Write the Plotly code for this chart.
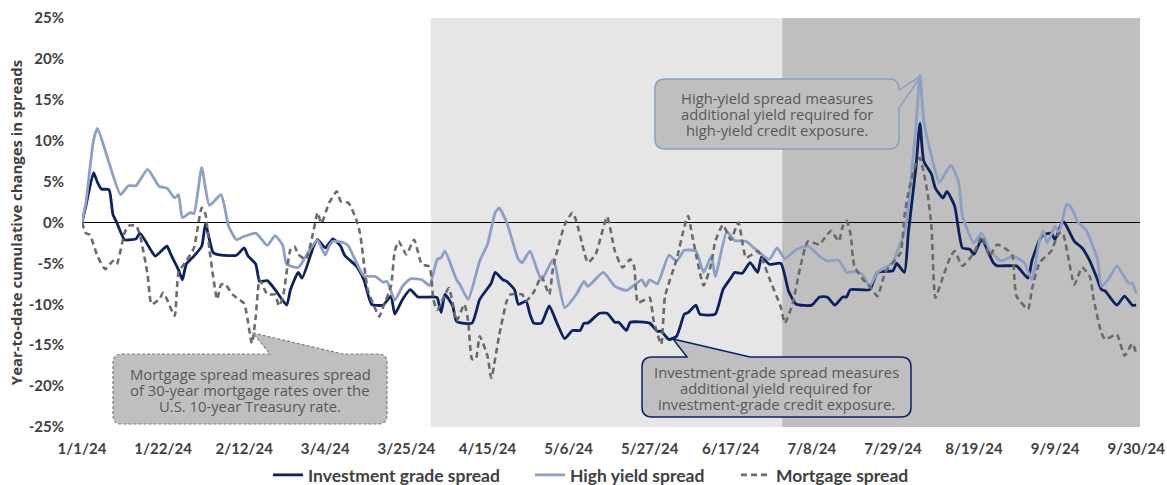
import pandas as pd
import plotly.graph_objects as go

BASE = pd.Timestamp("2024-01-01")

# Day offsets from 1/1/24 and year-to-date cumulative change (%)
ig_day = [0, 1, 3, 4, 5, 7, 8, 9, 11, 13, 14, 15, 18, 19, 22, 23, 25, 26, 27, 29, 31, 32, 33, 34, 36,
          40, 42, 43, 45, 46, 48, 50, 53, 54, 56, 57, 60, 61, 63, 65, 67, 68, 71, 73, 75, 78, 80, 81, 83,
          85, 87, 91, 92, 93, 94, 96, 97, 101, 103, 106, 107, 109, 110, 112, 113, 115, 116, 117, 119, 121,
          123, 125, 127, 129, 130, 131, 134, 136, 138, 139, 141, 142, 147, 149, 150, 152, 154, 156, 157,
          159, 160, 164, 166, 168, 169, 171, 173, 175, 176, 178, 181, 183, 185, 189, 191, 193, 195, 197,
          198, 199, 204, 206, 210, 211, 213, 214, 216, 217, 218, 220, 221, 223, 224, 226, 228, 230, 231,
          233, 236, 237, 242, 245, 246, 248, 249, 251, 252, 254, 255, 257, 259, 261, 263, 264, 265, 268,
          270, 272, 273]
ig_val = [0, 2.0, 6.1, 4.9, 4.1, 4.0, 1.0, 0.0, -2.1, -2.1, -2.0, -1.3, -3.5, -4.1, -2.9, -3.9, -5.8,
          -7.0, -5.1, -4.1, -2.9, -0.1, -2.1, -3.7, -4.0, -4.0, -3.1, -4.1, -5.1, -7.2, -7.1, -8.2, -10.1,
          -8.2, -6.1, -6.8, -2.9, -2.1, -3.1, -2.0, -2.9, -4.0, -5.3, -7.0, -10.0, -10.1, -9.0, -11.2, -9.4,
          -8.2, -9.1, -9.1, -9.2, -11.0, -8.8, -10.2, -12.1, -12.3, -9.4, -7.4, -6.1, -7.0, -7.2, -8.2,
          -10.0, -9.6, -11.2, -12.3, -12.3, -10.2, -12.3, -14.2, -13.2, -13.2, -12.3, -12.3, -11.1, -11.1,
          -12.2, -12.2, -13.2, -12.2, -12.3, -13.3, -13.3, -14.3, -13.9, -11.2, -11.0, -10.1, -11.2, -11.2,
          -8.2, -6.8, -6.1, -6.2, -4.9, -6.1, -4.2, -5.1, -5.0, -8.4, -10.0, -10.1, -9.1, -9.1, -10.1,
          -9.1, -9.1, -8.2, -8.2, -6.1, -5.9, -5.0, -6.1, -1.3, 6.9, 12.1, 7.5, 5.9, 4.2, 3.0, 3.8, 2.0,
          -3.1, -3.3, -3.9, -2.1, -4.9, -5.3, -5.3, -6.8, -4.7, -2.1, -1.5, -1.3, -2.1, 0.2, -0.45, -2.3,
          -3.1, -4.7, -7.0, -8.2, -8.4, -10.1, -9.0, -10.1, -10.1]

hy_day = [0, 1, 3, 4, 7, 10, 12, 14, 17, 20, 22, 24, 25, 26, 28, 29, 31, 33, 36, 38, 40, 42, 45, 48, 50,
          52, 53, 56, 57, 59, 61, 63, 64, 65, 68, 69, 73, 76, 78, 79, 81, 83, 85, 88, 90, 92, 93, 94, 97,
          98, 100, 103, 105, 107, 108, 110, 113, 114, 116, 119, 122, 125, 128, 130, 131, 135, 138, 141,
          145, 146, 147, 149, 152, 154, 156, 159, 161, 163, 164, 167, 169, 172, 174, 178, 180, 182, 185,
          188, 191, 193, 196, 198, 200, 202, 204, 206, 210, 211, 213, 214, 216, 217, 218, 220, 222, 225,
          227, 228, 230, 231, 233, 235, 238, 241, 244, 246, 248, 249, 250, 252, 253, 255, 256, 258, 260,
          263, 264, 266, 268, 271, 272, 273]
hy_val = [0, 2.4, 10.1, 11.5, 7.3, 3.4, 4.5, 4.5, 6.5, 4.4, 4.2, 3.0, 3.4, 0.6, 1.2, 1.1, 6.7, 2.1, 3.4,
          -0.5, -2.1, -1.7, -1.3, -2.8, -1.6, -2.8, -5.1, -5.5, -4.9, -3.3, -2.2, -4.0, -2.9, -2.3, -2.5,
          -2.9, -6.5, -6.6, -7.3, -7.2, -9.5, -7.8, -6.9, -7.0, -7.7, -4.5, -4.3, -3.5, -7.0, -7.7, -9.4,
          -4.7, -2.7, 1.2, 1.8, 0.0, -4.5, -4.9, -3.5, -7.0, -4.5, -10.4, -8.8, -7.2, -7.8, -6.1, -7.8,
          -8.3, -7.0, -7.8, -7.0, -7.5, -4.0, -4.7, -3.4, -3.5, -6.1, -4.1, -6.6, -1.1, -2.2, -2.3, -3.1,
          -4.5, -3.1, -4.4, -3.3, -2.9, -4.1, -4.7, -4.6, -6.1, -6.0, -6.3, -7.8, -6.1, -4.9, -3.7, -1.3,
          2.0, 11.8, 18.0, 12.4, 8.1, 4.9, 7.0, 5.0, 0.8, -1.7, -2.5, -1.3, -3.3, -4.7, -4.1, -4.9, -7.0,
          -2.1, -1.1, -2.5, -0.45, -1.3, 2.2, 2.0, 0.0, -0.9, -4.5, -7.8, -6.8, -5.3, -7.4, -7.4, -8.7]

mtg_day = [0, 1, 2, 4, 6, 8, 9, 11, 12, 14, 15, 17, 18, 20, 21, 22, 24, 25, 27, 29, 31, 32, 33, 35, 36,
           37, 39, 40, 42, 44, 45, 46, 48, 50, 51, 52, 54, 55, 56, 58, 60, 61, 62, 64, 66, 67, 69, 71, 72,
           74, 76, 77, 78, 80, 81, 82, 84, 86, 88, 90, 91, 92, 94, 95, 96, 97, 99, 100, 101, 102, 103, 105,
           106, 108, 110, 111, 114, 115, 117, 119, 121, 122, 125, 127, 128, 130, 131, 133, 136, 138, 140,
           142, 143, 144, 147, 148, 150, 151, 154, 156, 157, 158, 161, 163, 164, 166, 168, 170, 172, 175,
           176, 178, 181, 182, 184, 186, 188, 191, 192, 193, 194, 196, 197, 198, 199, 200, 202, 204, 206,
           208, 210, 212, 213, 214, 216, 217, 218, 219, 220, 221, 223, 225, 226, 228, 231, 233, 235, 237,
           240, 241, 242, 245, 246, 248, 251, 253, 254, 257, 259, 261, 262, 264, 265, 268, 270, 272, 273]
mtg_val = [0, -1.3, -1.5, -4.1, -5.7, -4.7, -5.1, -1.3, -0.4, -0.4, -1.5, -6.4, -10.0, -9.4, -8.6, -9.4,
           -11.4, -6.1, -4.7, -3.1, 1.8, 1.0, -3.3, -9.4, -7.6, -7.5, -8.8, -9.2, -9.9, -14.8, -11.5, -7.0,
           -8.8, -8.8, -10.2, -9.2, -3.3, -2.9, -3.9, -4.5, -0.9, 1.2, -0.1, 2.4, 3.8, 2.6, 2.4, 0.4, -1.3,
           -8.2, -10.6, -11.5, -10.3, -7.8, -3.5, -2.3, -3.9, -2.1, -5.1, -5.4, -9.4, -10.7, -8.8, -8.0,
           -9.8, -12.1, -10.0, -12.0, -16.7, -16.7, -13.9, -16.3, -19.0, -13.9, -9.6, -8.8, -8.8, -9.6,
           -8.5, -6.6, -8.8, -5.5, -0.3, 1.2, 0.2, -3.5, -4.9, -3.9, 0.7, -3.5, -5.5, -4.5, -5.4, -9.8,
           -9.2, -11.9, -14.9, -9.0, -4.5, -0.5, 0.8, -1.5, -7.7, -5.0, -2.3, -0.3, -2.1, 0.0, -4.3, -3.5,
           -4.3, -6.8, -10.4, -12.3, -10.0, -5.5, -2.3, -2.7, -2.1, -1.5, -1.0, -2.3, -0.5, 0.2, -1.3, -5.3,
           -6.8, -7.8, -9.0, -6.1, -4.9, -3.7, 0.8, 3.6, 7.3, 7.9, 6.1, 3.5, -0.5, -9.2, -6.6, -4.1, -3.5,
           -5.3, -3.7, -1.7, -4.1, -2.7, -3.5, -4.1, -9.0, -10.6, -8.2, -4.9, -3.5, -1.3, -1.3, -7.6, -5.5,
           -6.6, -9.4, -13.5, -14.3, -13.7, -16.3, -14.8, -15.9]

x_tick_dates = ["2024-01-01", "2024-01-22", "2024-02-12", "2024-03-04", "2024-03-25", "2024-04-15",
                "2024-05-06", "2024-05-27", "2024-06-17", "2024-07-08", "2024-07-29", "2024-08-19",
                "2024-09-09", "2024-09-30"]
x_tick_text = ["1/1/24", "1/22/24", "2/12/24", "3/4/24", "3/25/24", "4/15/24", "5/6/24", "5/27/24",
               "6/17/24", "7/8/24", "7/29/24", "8/19/24", "9/9/24", "9/30/24"]
y_tick_vals = [25, 20, 15, 10, 5, 0, -5, -10, -15, -20, -25]
y_tick_text = ["25%", "20%", "15%", "10%", "5%", "0%", "-5%", "-10%", "-15%", "-20%", "-25%"]

q2_span = ["2024-03-31 08:00", "2024-06-30 08:00"]
q3_span = ["2024-06-30 08:00", "2024-10-01"]

mtg_note = ["Mortgage spread measures spread", "of 30-year mortgage rates over the",
            "U.S. 10-year Treasury rate."]
ig_note = ["Investment-grade spread measures", "additional yield required for",
           "investment-grade credit exposure."]
hy_note = ["High-yield spread measures", "additional yield required for",
           "high-yield credit exposure."]

NAVY = "#0b2160"
LIGHT = "#8c9fc4"
GRAY = "#6b6b6b"
TXT = "#404040"
FONT = "Lato"
NOTE_FONT = "Open Sans"

W, H = 1167, 485
L, R, T, B = 82, 27, 18, 58
PW, PH = W - L - R, H - T - B


def to_dates(days):
    return [BASE + pd.Timedelta(days=d) for d in days]


def px(x):
    return (x - L) / PW


def py(y):
    return (H - B - y) / PH


def callout(x0, y0, x1, y1, r, ptr, side):
    def P(x, y):
        return f"{px(x):.5f},{py(y):.5f}"
    s = f"M {P(x0 + r, y0)} "
    if side == "top":
        s += f"L {P(ptr[0][0], y0)} L {P(*ptr[1])} L {P(ptr[2][0], y0)} "
    s += f"L {P(x1 - r, y0)} Q {P(x1, y0)} {P(x1, y0 + r)} "
    if side == "right":
        s += f"L {P(x1, ptr[0][1])} L {P(*ptr[1])} L {P(x1, ptr[2][1])} "
    s += f"L {P(x1, y1 - r)} Q {P(x1, y1)} {P(x1 - r, y1)} "
    s += f"L {P(x0 + r, y1)} Q {P(x0, y1)} {P(x0, y1 - r)} "
    s += f"L {P(x0, y0 + r)} Q {P(x0, y0)} {P(x0 + r, y0)} Z"
    return s


fig = go.Figure()
fig.add_trace(go.Scatter(x=to_dates(ig_day), y=ig_val, name="Investment grade spread", mode="lines",
                         legend="legend",
                         line=dict(color=NAVY, width=2.8, shape="spline", smoothing=0.5)))
fig.add_trace(go.Scatter(x=to_dates(hy_day), y=hy_val, name="High yield spread", mode="lines",
                         legend="legend2",
                         line=dict(color=LIGHT, width=2.8, shape="spline", smoothing=0.5)))
fig.add_trace(go.Scatter(x=to_dates(mtg_day), y=mtg_val, name="Mortgage spread", mode="lines",
                         legend="legend3",
                         line=dict(color=GRAY, width=2.6, dash="6px,4px", shape="spline", smoothing=0.5)))

shapes = [
    dict(type="rect", xref="x", yref="paper", x0=q2_span[0], x1=q2_span[1], y0=0, y1=1,
         fillcolor="#e6e6e6", line=dict(width=0), layer="below"),
    dict(type="rect", xref="x", yref="paper", x0=q3_span[0], x1=q3_span[1], y0=0, y1=1,
         fillcolor="#bfbfbf", line=dict(width=0), layer="below"),
    dict(type="path", xref="paper", yref="paper",
         path=callout(113, 354, 387, 424, 9, [(270, 354), (253, 333), (343, 354)], "top"),
         fillcolor="#bfbfbf", line=dict(color="#7f7f7f", width=1.2, dash="3px,2px")),
    dict(type="path", xref="paper", yref="paper",
         path=callout(642, 357, 911, 417, 10, [(687, 357), (673, 339), (750, 357)], "top"),
         fillcolor="#bfbfbf", line=dict(color=NAVY, width=1.5)),
    dict(type="path", xref="paper", yref="paper",
         path=callout(655, 79, 899, 149, 10, [(899, 90), (921, 76), (899, 108)], "right"),
         fillcolor="#bfbfbf", line=dict(color=LIGHT, width=1.5)),
]

annotations = []
for lines, cx, ys in [(mtg_note, 250, [374, 390, 406]), (ig_note, 776, [372, 388, 404]),
                      (hy_note, 777, [98, 114, 130])]:
    for t, yy in zip(lines, ys):
        annotations.append(dict(text=t, xref="paper", yref="paper", x=px(cx), y=py(yy),
                                xanchor="center", yanchor="middle", showarrow=False,
                                font=dict(family=NOTE_FONT, size=14.8, color="#595959")))


def legend_at(xpix):
    return dict(orientation="h", x=px(xpix), xanchor="left", y=py(475), yanchor="middle",
                font=dict(family=FONT, size=17.5, color=TXT, weight="bold"),
                bgcolor="rgba(0,0,0,0)", borderwidth=0)


fig.update_layout(
    width=W, height=H,
    margin=dict(l=L, r=R, t=T, b=B, autoexpand=False),
    plot_bgcolor="white", paper_bgcolor="white",
    shapes=shapes, annotations=annotations,
    showlegend=True,
    legend=legend_at(268), legend2=legend_at(530), legend3=legend_at(736),
    xaxis=dict(type="date", range=["2024-01-01", "2024-10-01"], showgrid=False, zeroline=False,
               showline=False, tickvals=x_tick_dates, ticktext=x_tick_text, automargin=False,
               ticks="outside", ticklen=8, tickcolor="rgba(0,0,0,0)",
               tickfont=dict(family=FONT, size=15, color=TXT, weight="bold")),
    yaxis=dict(range=[-25, 25], showgrid=False, zeroline=True, zerolinecolor="black", zerolinewidth=1,
               showline=False, tickvals=y_tick_vals, ticktext=y_tick_text, automargin=False,
               ticks="outside", ticklen=14, tickcolor="rgba(0,0,0,0)",
               tickfont=dict(family=FONT, size=15, color=TXT, weight="bold"),
               title=dict(text="Year-to-date cumulative changes in spreads", standoff=2,
                          font=dict(family="Open Sans", size=14.9, color=TXT, weight="bold"))),
)

fig.write_html("out.html", config={"displayModeBar": False},
               post_script="document.body.style.margin='0';document.body.style.overflow='hidden';")
